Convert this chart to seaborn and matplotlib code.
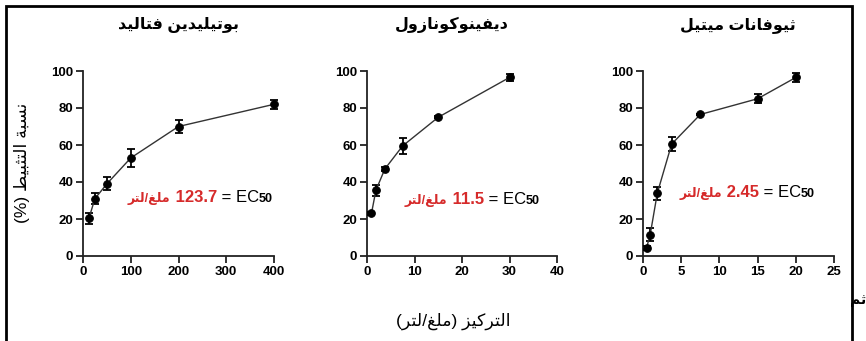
import matplotlib
matplotlib.use("Agg")
import matplotlib.pyplot as plt
from matplotlib.patches import Rectangle
import pandas as pd
import seaborn as sns

# data
titles = ["بوتيليدين فتاليد", "ديفينوكونازول", "ثيوفانات ميتيل"]
ec50_values = ["123.7", "11.5", "2.45"]

conc_butylidene = [12.5, 25, 50, 100, 200, 400]
act_butylidene = [20.5, 31, 39, 53, 70, 82]
err_butylidene = [3, 3, 3.5, 5, 3.5, 2.5]

conc_difeno = [0.94, 1.875, 3.75, 7.5, 15, 30]
act_difeno = [23, 35.5, 47, 59.5, 75, 96.5]
err_difeno = [1, 3, 1, 4.5, 0.5, 2]

conc_thioph = [0.47, 0.94, 1.875, 3.75, 7.5, 15, 20]
act_thioph = [4.5, 11.5, 34, 60.5, 76.5, 85, 96.5]
err_thioph = [1, 3.5, 3.5, 4, 0.5, 2.5, 2.5]

x_limits = [400, 40, 25]
x_ticks = [[0, 100, 200, 300, 400], [0, 10, 20, 30, 40], [0, 5, 10, 15, 20, 25]]
y_ticks = [0, 20, 40, 60, 80, 100]

y_label = "نسبة التثبيط (%)"
x_label = "التركيز (ملغ/لتر)"
unit = "ملغ/لتر"

# arabic contextual forms: isolated, final, initial, medial
FORMS = {
    "ا": ("\uFE8D", "\uFE8E", None, None),
    "ب": ("\uFE8F", "\uFE90", "\uFE91", "\uFE92"),
    "ة": ("\uFE93", "\uFE94", None, None),
    "ت": ("\uFE95", "\uFE96", "\uFE97", "\uFE98"),
    "ث": ("\uFE99", "\uFE9A", "\uFE9B", "\uFE9C"),
    "د": ("\uFEA9", "\uFEAA", None, None),
    "ر": ("\uFEAD", "\uFEAE", None, None),
    "ز": ("\uFEAF", "\uFEB0", None, None),
    "س": ("\uFEB1", "\uFEB2", "\uFEB3", "\uFEB4"),
    "ط": ("\uFEC1", "\uFEC2", "\uFEC3", "\uFEC4"),
    "غ": ("\uFECD", "\uFECE", "\uFECF", "\uFED0"),
    "ف": ("\uFED1", "\uFED2", "\uFED3", "\uFED4"),
    "ك": ("\uFED9", "\uFEDA", "\uFEDB", "\uFEDC"),
    "ل": ("\uFEDD", "\uFEDE", "\uFEDF", "\uFEE0"),
    "م": ("\uFEE1", "\uFEE2", "\uFEE3", "\uFEE4"),
    "ن": ("\uFEE5", "\uFEE6", "\uFEE7", "\uFEE8"),
    "و": ("\uFEED", "\uFEEE", None, None),
    "ي": ("\uFEF1", "\uFEF2", "\uFEF3", "\uFEF4"),
}


def shape(s):
    out = []
    for i, c in enumerate(s):
        if c not in FORMS:
            out.append(c)
            continue
        prev = s[i - 1] if i > 0 else ""
        nxt = s[i + 1] if i + 1 < len(s) else ""
        join_prev = prev in FORMS and FORMS[prev][2] is not None
        join_next = FORMS[c][2] is not None and nxt in FORMS
        iso, fin, ini, med = FORMS[c]
        if join_prev and join_next:
            out.append(med)
        elif join_prev:
            out.append(fin)
        elif join_next:
            out.append(ini)
        else:
            out.append(iso)
    vis = "".join(reversed(out))
    return vis.translate(str.maketrans("()", ")("))


sns.set_style("ticks")
plt.rcParams["font.family"] = ["Liberation Sans", "DejaVu Sans"]
plt.rcParams["text.color"] = "black"
plt.rcParams["xtick.color"] = "black"
plt.rcParams["ytick.color"] = "black"

fig = plt.figure(figsize=(8.66, 3.41), dpi=100)

panels = [
    (conc_butylidene, act_butylidene, err_butylidene),
    (conc_difeno, act_difeno, err_difeno),
    (conc_thioph, act_thioph, err_thioph),
]
lefts = [83 / 866, 367 / 866, 643 / 866]
widths = [191 / 866, 190 / 866, 191 / 866]
title_x = [179 / 866, 452 / 866, 738 / 866]
ec_pos = [(0.995, 0.29), (0.91, 0.28), (0.90, 0.32)]

for i, (conc, act, err) in enumerate(panels):
    ax = fig.add_axes([lefts[i], 85 / 341, widths[i], 185 / 341])
    df = pd.DataFrame({"conc": conc, "act": act})
    ax.errorbar(conc, act, yerr=err, fmt="none", ecolor="black",
                elinewidth=1.3, capsize=3, capthick=1.3, clip_on=False, zorder=3)
    sns.lineplot(data=df, x="conc", y="act", ax=ax, color="#333333",
                 linewidth=1, marker="o", markersize=5.5,
                 markerfacecolor="black", markeredgecolor="black", clip_on=False, zorder=4)
    ax.set_xlim(0, x_limits[i])
    ax.set_ylim(0, 100)
    ax.set_xticks(x_ticks[i])
    ax.set_yticks(y_ticks)
    ax.set_xlabel("")
    ax.set_ylabel("")
    for lab in ax.get_xticklabels() + ax.get_yticklabels():
        lab.set_fontweight("bold")
        lab.set_fontsize(9.5)
    ax.tick_params(width=1.3, length=5, pad=2, color="#222222", labelcolor="black")
    for sp in ["left", "bottom"]:
        ax.spines[sp].set_linewidth(1.3)
        ax.spines[sp].set_color("#222222")
    sns.despine(ax=ax)

    # EC50 annotation, built right to left
    xr, yb = ec_pos[i]
    t50 = ax.text(xr, yb, "50", transform=ax.transAxes, ha="right", va="baseline",
                  fontsize=9, fontweight="bold", color="black")
    tec = ax.annotate(" = EC", xy=(0, yb), xycoords=(t50, "axes fraction"),
                      ha="right", va="baseline", fontsize=12, color="black")
    tnum = ax.annotate(" " + ec50_values[i], xy=(0, yb), xycoords=(tec, "axes fraction"),
                       ha="right", va="baseline", fontsize=12, fontweight="bold", color="#d62a2a")
    ax.annotate(shape(unit), xy=(0, yb), xycoords=(tnum, "axes fraction"),
                ha="right", va="baseline", fontsize=9, fontweight="bold",
                color="#d62a2a")

    fig.text(title_x[i], 1 - 25 / 341, shape(titles[i]), ha="center", va="center",
             fontsize=11.5, fontweight="bold", color="black")

fig.text(22 / 866, 1 - 163 / 341, shape(y_label), rotation=90, ha="center", va="center",
         fontsize=12.5)
fig.text(453 / 866, 1 - 321 / 341, shape(x_label), ha="center", va="center", fontsize=12.5)
fig.text(1.0, 1 - 300 / 341, shape("ثم"), ha="right", va="center",
         fontsize=10, fontweight="bold")

fig.patches.append(Rectangle((6 / 866, -0.1), (852 - 6) / 866, 0.1 + 1 - 6 / 341,
                             transform=fig.transFigure, fill=False, lw=2, ec="black"))

fig.savefig("out.png", dpi=100)
